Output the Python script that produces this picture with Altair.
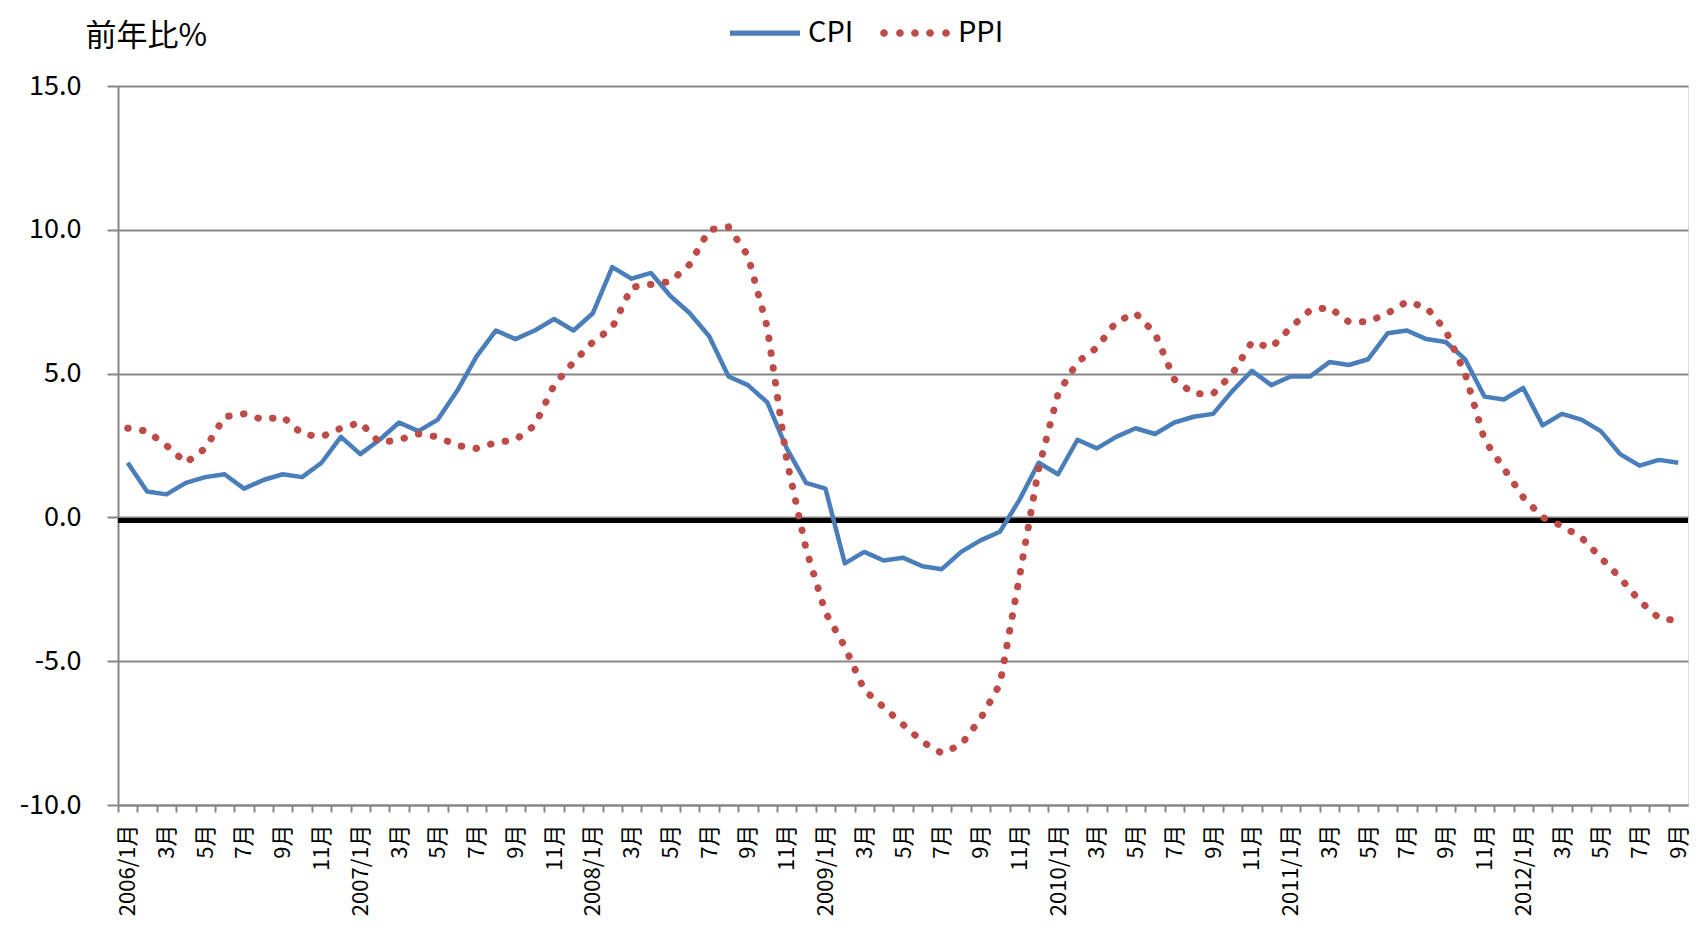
import altair as alt
import pandas as pd

years = [2006, 2007, 2008, 2009, 2010, 2011, 2012]
months = [f"{y}-{m:02d}" for y in years for m in range(1, 13)][:81]

cpi = [1.9, 0.9, 0.8, 1.2, 1.4, 1.5, 1.0, 1.3, 1.5, 1.4, 1.9, 2.8,
       2.2, 2.7, 3.3, 3.0, 3.4, 4.4, 5.6, 6.5, 6.2, 6.5, 6.9, 6.5,
       7.1, 8.7, 8.3, 8.5, 7.7, 7.1, 6.3, 4.9, 4.6, 4.0, 2.4, 1.2,
       1.0, -1.6, -1.2, -1.5, -1.4, -1.7, -1.8, -1.2, -0.8, -0.5, 0.6, 1.9,
       1.5, 2.7, 2.4, 2.8, 3.1, 2.9, 3.3, 3.5, 3.6, 4.4, 5.1, 4.6,
       4.9, 4.9, 5.4, 5.3, 5.5, 6.4, 6.5, 6.2, 6.1, 5.5, 4.2, 4.1,
       4.5, 3.2, 3.6, 3.4, 3.0, 2.2, 1.8, 2.0, 1.9]

ppi = [3.1, 3.0, 2.5, 1.9, 2.4, 3.5, 3.6, 3.4, 3.5, 2.9, 2.8, 3.1,
       3.3, 2.6, 2.7, 2.9, 2.8, 2.5, 2.4, 2.6, 2.7, 3.2, 4.6, 5.4,
       6.1, 6.6, 8.0, 8.1, 8.2, 8.8, 10.0, 10.1, 9.1, 6.6, 2.0, -1.1,
       -3.3, -4.5, -6.0, -6.6, -7.2, -7.8, -8.2, -7.9, -7.0, -5.8, -2.1, 1.7,
       4.3, 5.4, 5.9, 6.8, 7.1, 6.4, 4.8, 4.3, 4.3, 5.0, 6.1, 5.9,
       6.6, 7.2, 7.3, 6.8, 6.8, 7.1, 7.5, 7.3, 6.5, 5.0, 2.7, 1.7,
       0.7, 0.0, -0.3, -0.7, -1.4, -2.1, -2.9, -3.5, -3.6]

series_names = ["CPI", "PPI"]
series_colors = ["#4a7ebb", "#be4b48"]
y_ticks = [-10, -5, 0, 5, 10, 15]

df = pd.DataFrame({
    "month": months * 2,
    "value": cpi + ppi,
    "series": ["CPI"] * len(cpi) + ["PPI"] * len(ppi),
})

W, H = 1570, 719
step = W / len(months)
FONT = "Noto Sans CJK JP"

def circle(cx, r=0.11):
    return f"M{cx - r},0a{r},{r} 0 1,0 {2 * r},0a{r},{r} 0 1,0 {-2 * r},0Z"

line_path = "M-1,-0.075H1V0.075H-1Z"
dots_path = "".join(circle(c) for c in [-0.886, -0.43, 0, 0.43, 0.886])

label_expr = (
    "(toNumber(slice(datum.value,5)) % 2 == 1) ? "
    "(slice(datum.value,5) == '01' ? slice(datum.value,0,4) + '/1月' : "
    "toNumber(slice(datum.value,5)) + '月') : ''"
)

x_enc = alt.X(
    "month:O",
    sort=months,
    scale=alt.Scale(type="point", padding=0.5),
    axis=alt.Axis(
        title=None,
        labelExpr=label_expr,
        labelAngle=270,
        labelFont=FONT,
        labelFontSize=22,
        labelColor="black",
        labelPadding=12,
        labelOverlap=False,
        tickSize=7,
        tickColor="#868686",
        tickWidth=2,
        tickOffset=-step / 2,
        labelOffset=step / 2,
        domainColor="#868686",
        domainWidth=2,
        grid=False,
    ),
)

y_enc = alt.Y(
    "value:Q",
    scale=alt.Scale(domain=[-10, 15], nice=False, zero=False),
    axis=alt.Axis(
        values=y_ticks,
        labelExpr="replace(format(datum.value, '.1f'), '\u2212', '-')",
        title="前年比%",
        titleAngle=0,
        titleX=-33,
        titleY=-50,
        titleAlign="left",
        titleBaseline="middle",
        titleFont=FONT,
        titleFontSize=31,
        titleFontWeight="normal",
        titleColor="black",
        labelFont=FONT,
        labelFontSize=27,
        labelColor="black",
        labelPadding=26,
        tickSize=11,
        tickColor="#868686",
        tickWidth=2,
        domainColor="#868686",
        domainWidth=2,
        grid=True,
        gridColor="#868686",
        gridWidth=2,
    ),
)

base = alt.Chart(df)

zero_line = alt.Chart(df).mark_rule(color="black", strokeWidth=5, yOffset=3).encode(
    y=alt.datum(0)
)

cpi_line = base.transform_filter(alt.datum.series == "CPI").mark_line(
    color=series_colors[0], strokeWidth=4.5, strokeJoin="round"
).encode(x=x_enc, y=y_enc)

ppi_line = base.transform_filter(alt.datum.series == "PPI").mark_line(
    color=series_colors[1], strokeWidth=7, strokeDash=[0.5, 14.5], strokeCap="round"
).encode(x=x_enc, y=y_enc)

legend_cfg = dict(
    title=None,
    orient="none",
    legendX=612,
    legendY=-88,
    direction="horizontal",
    symbolSize=4900,
    symbolOpacity=1,
    symbolStrokeWidth=0,
    labelFont=FONT,
    labelFontSize=29,
    labelColor="black",
    labelOffset=8,
    columnPadding=26,
    padding=0,
)

legend_layer = base.mark_point(filled=True, opacity=0, size=1).encode(
    x=x_enc,
    y=y_enc,
    color=alt.Color(
        "series:N",
        scale=alt.Scale(domain=series_names, range=series_colors),
        legend=alt.Legend(**legend_cfg),
    ),
    shape=alt.Shape(
        "series:N",
        scale=alt.Scale(domain=series_names, range=[line_path, dots_path]),
        legend=alt.Legend(**legend_cfg),
    ),
)

chart = alt.layer(zero_line, cpi_line, ppi_line, legend_layer).properties(
    width=W,
    height=H,
    autosize=alt.AutoSizeParams(type="none"),
    padding={"left": 110, "top": 78, "right": 6, "bottom": 116},
).configure_view(stroke=None).configure(background="white")

chart.save("out.html", embed_options={"renderer": "svg", "actions": False})
